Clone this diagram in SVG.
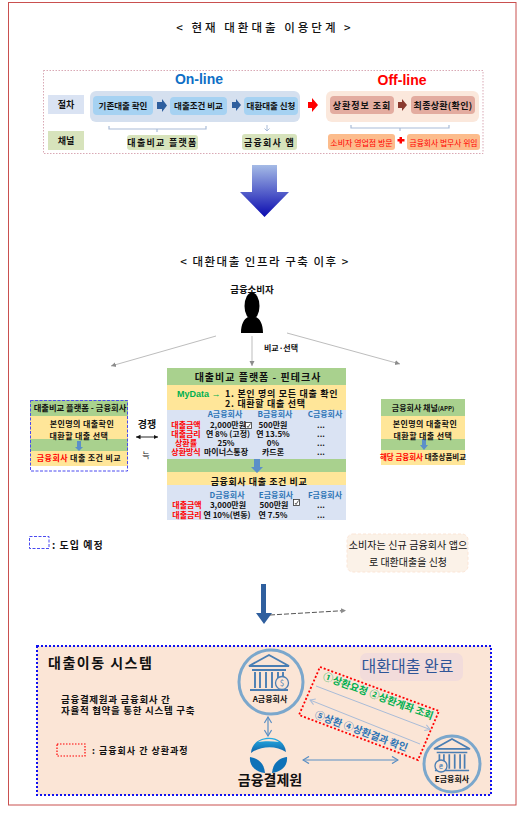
<svg xmlns="http://www.w3.org/2000/svg" width="527" height="813" viewBox="0 0 527 813">
<style>
text{font-family:"Noto Sans CJK KR","Noto Sans",sans-serif;fill:#111;text-anchor:middle;font-size:8.5px}
.b{font-weight:700}.l{text-anchor:start}
.r{fill:#f00}.bl{fill:#2e75b6}.gn{fill:#00b050}
.f8{font-size:8px}.f9{font-size:9px}.f10{font-size:10px}
.s{letter-spacing:.4px}
.grn{fill:#a9d18e}.yel{fill:#ffe699}.pale{fill:#dae3f3}
.step{fill:#a6d2f2}.off{fill:#e3aca0}.org{fill:#fcbc8c}
.conn{fill:none;stroke:#bdbdbd;stroke-width:1}
.brk{fill:none;stroke:#a9bcd8;stroke-width:1.2}
.dbl{fill:none;stroke:#5b8fc4;stroke-width:1.2}
.bank{fill:none;stroke:#4a7eb3;stroke-width:1.9}
</style>
<defs>
<linearGradient id="g" x1="0" y1="0" x2="0" y2="1"><stop offset="0" stop-color="#a5bbe6"/><stop offset="1" stop-color="#0b0bb0"/></linearGradient>
<linearGradient id="lg" x1="0" y1="0" x2="0" y2="1"><stop offset="0" stop-color="#27b0e6"/><stop offset="1" stop-color="#0e62a8"/></linearGradient>
<marker id="ag" markerWidth="6" markerHeight="6" refX="5" refY="3" orient="auto-start-reverse"><path d="M0 .5L5 3L0 5.500z" fill="#8c8c8c"/></marker>
<marker id="ab" markerWidth="7" markerHeight="7" refX="6" refY="3.500" orient="auto-start-reverse"><path d="M1 .5L6 3.500L1 6.500" fill="none" stroke="#5b8fc4"/></marker>
<marker id="ap" markerWidth="7" markerHeight="7" refX="6" refY="3.500" orient="auto-start-reverse"><path d="M1 .5L6 3.500L1 6.500" fill="none" stroke="#a9bcd8"/></marker>
<marker id="ak" markerWidth="6" markerHeight="6" refX="5" refY="3" orient="auto-start-reverse"><path d="M0 .5L5 3L0 5.500z" fill="#111"/></marker>
<g id="bankicon"><path class="bank" d="M-20 -9L0 -20L20 -9ZM-17 -5H17M-14 -3V13M-9 -3V13M-3 -3V13M3 -3V13M9 -3V13M14 -3V13M-19 15H19"/></g>
</defs>
<rect x="8.500" y="2.500" width="507.500" height="802.500" fill="#fff" stroke="#c9504f" stroke-width="1"/>
<g id="title1"><text x="265" y="32" style="font-size:11.500px;font-weight:500;letter-spacing:3px" xml:space="preserve">&lt; 현재 대환대출 이용단계 &gt;</text></g>
<g id="current-stage">
<rect x="43.500" y="70.500" width="439.500" height="83" fill="none" stroke="#d9a9b5" stroke-dasharray="1.500 1.500"/>
<text x="199" y="84" class="b" style="font-size:14px;fill:#0f6fc6;font-family:'Liberation Sans',sans-serif">On-line</text>
<text x="402" y="85" class="b" style="font-size:14px;fill:#f00;font-family:'Liberation Sans',sans-serif">Off-line</text>
<rect x="90" y="91" width="210" height="31" rx="6" fill="#d5e0ef"/>
<rect x="326" y="91" width="153" height="31" rx="6" fill="#fbe8dc"/>
</g>
<g id="n-jeolcha"><rect x="48" y="95" width="36" height="19" fill="#dae3f3"/><text x="66" y="108" class="b f9">절차</text></g>
<g id="n-channel"><rect x="48" y="131" width="36" height="19" fill="#d7e3bc"/><text x="66" y="144" class="b f9">채널</text></g>
<g id="n-step1"><rect x="93" y="96" width="60" height="19" rx="4" class="step"/><text x="123" y="108.500" class="b" style="font-size:8.500px">기존대출 확인</text></g>
<g id="n-step2"><rect x="170" y="97" width="57" height="18" rx="4" class="step"/><text x="198.500" y="108.500" class="b" style="font-size:8.500px">대출조건 비교</text></g>
<g id="n-step3"><rect x="244" y="97" width="54" height="18" rx="4" class="step"/><text x="271" y="108.500" class="b" style="font-size:8.500px">대환대출 신청</text></g>
<g id="n-step4"><rect x="330" y="96" width="64" height="18" rx="4" class="off"/><text x="362" y="108.500" class="b" style="font-size:9px;letter-spacing:1px" xml:space="preserve">상환정보 조회</text></g>
<g id="n-step5"><rect x="411" y="96" width="64" height="18" rx="4" class="off"/><text x="443" y="108.500" class="b" style="font-size:9px;letter-spacing:.3px">최종상환(확인)</text></g>
<g id="n-ch1"><rect x="127" y="135" width="71" height="15" rx="3" fill="#d7e3bc"/><text x="162.500" y="146" class="b" style="font-size:9px;letter-spacing:1.300px">대출비교 플랫폼</text></g>
<g id="n-ch2"><rect x="242" y="134" width="55" height="16" rx="3" fill="#d7e3bc"/><text x="269.500" y="146" class="b" style="font-size:9px;letter-spacing:1.300px">금융회사 앱</text></g>
<g id="n-ch3"><rect x="328" y="134" width="67" height="16" rx="3" class="org"/><text x="361.500" y="145.500" class="r" style="font-size:8px">소비자 영업점 방문</text></g>
<g id="n-ch4"><rect x="407" y="134" width="73" height="16" rx="3" class="org"/><text x="443.500" y="145.500" class="r" style="font-size:7.800px">금융회사 법무사 위임</text></g>
<g id="n-consumer">
<text x="252" y="293" class="b" style="font-size:9.500px">금융소비자</text>
<ellipse cx="252" cy="306" rx="7.500" ry="13.500" fill="#000"/>
<path d="M241 333C241 324 244 319 248 317Q252 320 256 317C260 319 263 324 263 333Z" fill="#000"/>
</g>
<g id="n-platform">
<rect x="167" y="368" width="179" height="17" class="grn"/>
<rect x="167" y="385" width="179" height="25" class="yel"/>
<rect x="167" y="410" width="179" height="49" class="pale"/>
<rect x="167" y="459" width="179" height="13" class="grn"/>
<rect x="167" y="472" width="179" height="13" class="yel"/>
<rect x="167" y="485" width="179" height="35" class="pale"/>
<text x="258" y="380.500" class="b f10" style="letter-spacing:1px">대출비교 플랫폼 - 핀테크사</text>
<text x="177" y="396.500" class="l b gn f9" style="font-family:'Liberation Sans',sans-serif">MyData →</text>
<text x="225" y="396.500" class="l b f9" style="letter-spacing:.7px">1. 본인 명의 모든 대출 확인</text>
<text x="225" y="406.500" class="l b f9" style="letter-spacing:.7px">2. 대환할 대출 선택</text>
<g class="b">
<text x="225" y="417" class="bl f8">A금융회사</text><text x="275" y="417" class="bl f8">B금융회사</text><text x="325" y="417" class="bl f8">C금융회사</text>
<text x="186" class="r f8"><tspan x="186" y="428">대출금액</tspan><tspan x="186" y="437">대출금리</tspan><tspan x="186" y="446">상환률</tspan><tspan x="186" y="455">상환방식</tspan></text>
<text class="f8"><tspan x="228" y="428">2,000만원</tspan><tspan x="228" y="437">연 8% (고정)</tspan><tspan x="226" y="446">25%</tspan><tspan x="226" y="455">마이너스통장</tspan></text>
<text class="f8"><tspan x="273" y="428">500만원</tspan><tspan x="273" y="437">연 13.5%</tspan><tspan x="273" y="446">0%</tspan><tspan x="273" y="455">카드론</tspan></text>
<text class="f8"><tspan x="321" y="428">...</tspan><tspan x="321" y="437">...</tspan><tspan x="321" y="446">...</tspan><tspan x="321" y="455">...</tspan></text>
<text x="259" y="484.500" class="f9" style="letter-spacing:.6px">금융회사 대출 조건 비교</text>
<text x="227" y="497.500" class="bl f8">D금융회사</text><text x="276" y="497.500" class="bl f8">E금융회사</text><text x="325" y="497.500" class="bl f8">F금융회사</text>
<text class="r f8"><tspan x="187" y="508">대출금액</tspan><tspan x="187" y="518">대출금리</tspan></text>
<text class="f8"><tspan x="228" y="508">3,000만원</tspan><tspan x="227" y="518">연 10%(변동)</tspan></text>
<text class="f8"><tspan x="274" y="508">500만원</tspan><tspan x="273" y="518">연 7.5%</tspan></text>
<text class="f8"><tspan x="321" y="508">...</tspan><tspan x="321" y="518">...</tspan></text>
</g>
<rect x="245.500" y="422.500" width="6" height="6" fill="#fff" stroke="#333" stroke-width=".8"/>
<path d="M247 426l1 1.500 2.500-4" fill="none" stroke="#333" stroke-width=".8"/>
<rect x="293.500" y="499.500" width="6" height="6" fill="#fff" stroke="#333" stroke-width=".8"/>
<path d="M295 503l1 1.500 2.500-4" fill="none" stroke="#333" stroke-width=".8"/>
<path d="M254 459H260V467H263L257 473L251 467H254Z" fill="#5b8fc9"/>
</g>
<g id="n-left">
<rect x="30" y="400" width="98" height="16" class="grn"/><rect x="30" y="416" width="98" height="23" class="yel"/><rect x="30" y="439" width="98" height="12" class="grn"/><rect x="30" y="451" width="98" height="15" class="yel"/>
<path d="M77 441H81V447H83L79 451L75 447H77Z" fill="#5b8fc9"/>
<rect x="30.500" y="400.500" width="97" height="70.500" fill="none" stroke="#4a4af0" stroke-dasharray="3 1.500"/>
<text x="80" y="410.500" class="b" style="font-size:8.300px">대출비교 플랫폼 - 금융회사</text>
<text x="82" y="426.500" class="b f8 s">본인명의 대출확인</text>
<text x="79" y="438.500" class="b f8 s">대환할 대출 선택</text>
<text x="79" y="461" class="b f8 s"><tspan class="r">금융회사</tspan> 대출 조건 비교</text>
</g>
<g id="n-right">
<rect x="381" y="399" width="84" height="17" class="grn"/><rect x="381" y="416" width="84" height="23" class="yel"/><rect x="381" y="439" width="84" height="11" class="grn"/><rect x="381" y="450" width="84" height="15" class="yel"/>
<path d="M422 439H426V445H428L424 450L420 445H422Z" fill="#5b8fc9"/>
<text x="423" y="411" class="b f8">금융회사 채널<tspan style="font-size:6px">(APP)</tspan></text>
<text x="425" y="426.500" class="b f8 s">본인명의 대출확인</text>
<text x="423" y="438.500" class="b f8 s">대환할 대출 선택</text>
<text x="423" y="459.500" class="b" style="font-size:7.500px"><tspan class="r">해당 금융회사</tspan> 대출상품비교</text>
</g>
<g id="n-compete"><text x="147" y="428" class="b f10">경쟁</text><text x="146" y="458" class="f8">늑</text></g>
<g id="n-legend1"><rect x="29.500" y="536.500" width="19.500" height="12" fill="none" stroke="#4a4af0" stroke-dasharray="3 1.500"/><text x="52" y="549" class="l b f10" style="letter-spacing:1px">: 도입 예정</text></g>
<g id="n-note"><rect x="347" y="534" width="121" height="38" rx="6" fill="#fbf2e8" stroke="#fbe5d6" stroke-dasharray="3 2"/><text x="408" y="548.500" style="font-size:10px;letter-spacing:.1px">소비자는 신규 금융회사 앱으</text><text x="408" y="565.500" class="f10">로 대환대출을 신청</text></g>
<g id="n-system">
<rect x="37" y="646" width="454" height="149" fill="#fbe5d6" stroke="#1010f0" stroke-width="2" stroke-dasharray="2 2"/>
<text x="48" y="668" class="l b" style="font-size:14px;letter-spacing:1.500px">대출이동 시스템</text>
<text x="61" y="703" class="l b" style="font-size:9.500px;letter-spacing:.7px">금융결제원과 금융회사 간</text>
<text x="61" y="714" class="l b" style="font-size:9.500px;letter-spacing:.7px">자율적 협약을 통한 시스템 구축</text>
<rect x="57" y="744" width="28" height="12" fill="none" stroke="#f00" stroke-width="1.200" stroke-dasharray="1.500 1.500"/>
<text x="92" y="753.500" class="l b" style="font-size:9px;letter-spacing:1px">: 금융회사 간 상환과정</text>
</g>
<g id="n-done"><rect x="360" y="653" width="103" height="28" rx="7" fill="#f2dcdb"/><text x="407.500" y="672" style="font-size:16px;fill:#2f5597">대환대출 완료</text></g>
<g id="n-bankA">
<circle cx="271" cy="682" r="32" fill="#fbe5d6" stroke="#7ba7cc" stroke-width="3"/>
<use href="#bankicon" x="269" y="675"/>
<circle cx="282" cy="683" r="6.500" fill="#fbe5d6" stroke="#4a7eb3" stroke-width="1.300"/>
<text x="282" y="686" style="font-size:8px;fill:#4a7eb3">$</text>
<text x="270" y="702" class="b f8">A금융회사</text>
</g>
<g id="n-bankE">
<circle cx="452" cy="764" r="28" fill="#fbe5d6" stroke="#7ba7cc" stroke-width="3"/>
<use href="#bankicon" x="452" y="757" transform="translate(45.200 75.700) scale(.9)"/>
<circle cx="441" cy="766" r="6" fill="#fbe5d6" stroke="#4a7eb3" stroke-width="1.300"/>
<text x="441" y="769" style="font-size:7px;fill:#4a7eb3">₴</text>
<text x="452" y="782" class="b f8">E금융회사</text>
</g>
<g id="n-kftc">
<path d="M251 753C252 734 284 732 286 752C276 745 260 746 251 753Z" fill="url(#lg)"/>
<path d="M258 742C264 738 274 738 279 742C272 741 264 741 258 742Z" fill="#fbe5d6"/>
<path d="M250 757C257 758 264 762 265 773C256 772 249 766 250 757Z" fill="#0e72b8"/>
<path d="M287 757C280 758 273 762 272 773C281 772 288 766 287 757Z" fill="#0e72b8"/>
<text x="270" y="785" class="b" style="font-size:14px">금융결제원</text>
</g>
<g id="n-route">
<polygon points="320,667 439,711 418,760 299,715" fill="none" stroke="#f00" stroke-width="1.800" stroke-dasharray="2 2"/>
<text transform="translate(377 699.500) rotate(20.300)" class="b gn f10">①상환요청 ②상환계좌 조회</text>
<text transform="translate(360 734.500) rotate(20.300)" class="b bl f10">⑤상환 ④상환결과 확인</text>
</g>
<g id="connectors">
<path d="M157 102H162V99L167 105.500L162 112V109H157Z" fill="#2f5f9e"/>
<path d="M232 102H236V99L241 105L236 111V108H232Z" fill="#2f5f9e"/>
<path d="M308 102H312V98L318 105L312 112V108H308Z" fill="#f00"/>
<path d="M398 102H402V99L407 105L402 111V108H398Z" fill="#8a3a2e"/>
<path class="brk" d="M109 126V129H206V126M157 129V132"/>
<path class="brk" d="M351 125V128H449V125M400 128V131"/>
<path d="M267 125V131M264.500 128.500L267 131L269.500 128.500" fill="none" stroke="#a9bcd8"/>
<path d="M399.500 137H402V139H404.500V141.500H402V143.500H399.500V141.500H397.500V139H399.500Z" fill="#f00"/>
<path d="M252 165H277V192H289L264.500 217L240 192H252Z" fill="url(#g)"/>
<path class="conn" d="M216 336L111 366" marker-end="url(#ag)"/>
<path class="conn" d="M252 336V366" marker-end="url(#ag)"/>
<path class="conn" d="M287 333L400 364" marker-end="url(#ag)"/>
<path d="M136 437H158" stroke="#111" stroke-width=".9" fill="none" marker-start="url(#ak)" marker-end="url(#ak)"/>
<path d="M261 584H266V613H272L264 624L256 613H261Z" fill="#2f5f9e"/>
<path d="M270 615L346 610.500" stroke="#555" stroke-dasharray="5 2" fill="none" marker-end="url(#ag)"/>
<path class="dbl" d="M268 717V736" marker-start="url(#ab)" marker-end="url(#ab)"/>
<path class="dbl" d="M303 760H398" marker-start="url(#ab)" marker-end="url(#ab)"/>
<path d="M316 686L430 729.500" fill="none" stroke="#a9bcd8" marker-end="url(#ap)"/>
<path d="M420 744L310 700" fill="none" stroke="#a9bcd8" marker-end="url(#ap)"/>
</g>
<g id="title2"><text x="265" y="266" style="font-size:11.500px;font-weight:500;letter-spacing:1.500px" xml:space="preserve">&lt; 대환대출 인프라 구축 이후 &gt;</text></g>
<g id="n-label"><text x="281" y="351" class="b f8">비교·선택</text></g>
</svg>
